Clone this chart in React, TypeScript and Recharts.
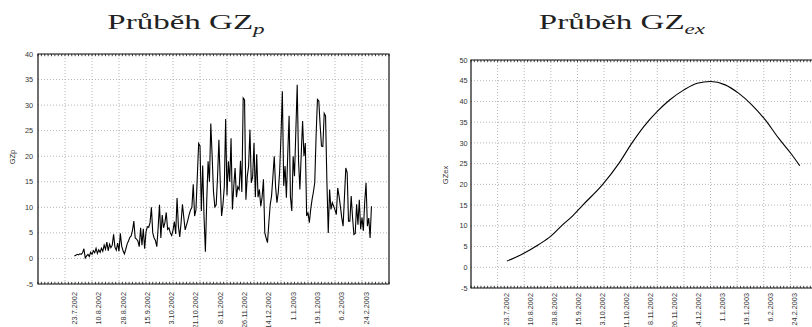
import React from 'react';
import { LineChart, Line, XAxis, YAxis, CartesianGrid, ReferenceLine, ReferenceArea } from 'recharts';

const SANS = '"Liberation Sans", Arial, sans-serif';
const SERIF = '"Liberation Serif", "Times New Roman", serif';

// x = day index counted from 23.7.2002
const dateLabels = ['23.7.2002', '10.8.2002', '28.8.2002', '15.9.2002', '3.10.2002', '21.10.2002', '8.11.2002', '26.11.2002', '14.12.2002', '1.1.2003', '19.1.2003', '6.2.2003', '24.2.2003'];
const labelDays = [0, 18, 36, 54, 72, 90, 108, 126, 144, 162, 180, 198, 216];
const gridDays = [-7, 13, 33, 53, 73, 93, 113, 133, 153, 173, 193, 213];
const xDomain = [-27, 233];

const gzpTicks = [-5, 0, 5, 10, 15, 20, 25, 30, 35, 40];
const gzexTicks = [-5, 0, 5, 10, 15, 20, 25, 30, 35, 40, 45, 50];

// GZp, one value per day starting 23.7.2002
const gzpValues = [
  0.5, 0.6, 0.8, 0.7, 0.9, 0.8, 1.1, 1.9, 0.1, 0.5,
  0.8, 0.4, 1.2, 0.8, 1.5, 1.1, 2.0, 1.0, 1.7, 1.2,
  2.0, 1.4, 2.6, 1.8, 3.2, 1.5, 2.8, 2.1, 2.6, 4.7,
  2.2, 1.6, 3.0, 1.4, 4.9, 2.4, 1.5, 0.9, 1.8, 2.8,
  3.4, 4.1, 4.4, 5.5, 7.3, 4.0, 3.8, 3.4, 2.3, 6.0,
  2.6, 5.8, 1.9, 5.2, 6.2,
  6.1, 7.0, 10.0, 5.0, 4.0, 3.5, 2.3, 6.0, 10.5, 4.0,
  8.5, 6.0, 7.0, 9.0, 5.7, 6.0, 5.0, 4.5, 5.5, 7.2,
  4.8, 11.8, 6.3, 4.2, 7.0, 10.6, 8.0, 5.6, 6.5, 7.5,
  8.6, 9.5, 10.0, 14.5, 8.3, 9.5, 16.0, 22.5, 22.0, 9.3,
  18.2, 8.0, 1.3, 11.4, 19.0, 15.0, 26.4, 20.0, 13.0, 10.1,
  10.5, 16.0, 23.2, 15.0, 8.3, 10.5, 14.0, 27.3, 12.3, 19.0,
  15.0, 23.5, 9.6, 14.0, 17.7, 12.0, 14.0, 13.5, 19.1, 13.0,
  31.4, 31.0, 11.5, 16.0, 18.0, 25.2, 14.8, 16.0, 22.6, 12.0,
  20.4, 12.0,
  13.5, 10.2, 12.0, 15.5, 5.0, 4.0, 3.1, 7.0, 10.5, 12.2,
  16.0, 20.0, 14.0, 10.9, 13.0, 17.0, 24.0, 32.7, 14.2, 18.1,
  11.9, 20.5, 27.9, 12.0, 9.3, 20.0, 16.1, 25.0, 34.0, 19.0,
  13.5, 20.5, 26.9, 20.0, 22.6, 8.3, 9.0, 7.0, 9.6, 11.5,
  13.0, 14.8, 24.0, 31.1, 30.8, 26.0, 22.0, 21.9, 28.4, 27.9,
  15.0, 5.0, 13.5, 9.6, 10.9, 10.2, 9.5, 8.6, 13.8, 12.2,
  10.2, 8.0, 6.3, 12.0, 17.7, 16.8, 7.3, 7.3, 12.2, 8.0,
  4.7, 4.9, 10.6, 6.6, 11.5, 5.7, 8.0, 5.4, 11.0, 14.8,
  6.3, 7.9, 4.0, 10.2,
];

// GZex, read at these days
const gzexDays = [0, 11, 24, 33, 41, 49, 57, 72, 84, 94, 103, 113, 122, 133, 143, 153, 164, 174, 184, 194, 204, 214, 220];
const gzexValues = [1.5, 3.1, 5.5, 7.5, 10.0, 12.3, 15.0, 20.0, 25.0, 30.0, 34.0, 37.6, 40.3, 42.8, 44.4, 44.8, 44.0, 42.0, 39.2, 35.6, 31.2, 27.2, 24.5];

const gzpData = gzpValues.map((v, i) => ({ day: i, v }));
const gzexData = gzexDays.map((d, i) => ({ day: d, v: gzexValues[i] }));

const minorX = Array.from({ length: 105 }, (_, i) => xDomain[0] + i * 2.5);

const DateTick = (props: any) => {
  const { x, y, payload } = props;
  const idx = labelDays.indexOf(payload.value);
  const label = idx >= 0 ? dateLabels[idx] : '';
  return (
    <text
      x={x}
      y={y}
      transform={`rotate(-90 ${x} ${y})`}
      textAnchor="end"
      dominantBaseline="central"
      fontSize={7.3}
      fontFamily={SANS}
      fill="#333"
    >
      {label}
    </text>
  );
};

// small inward tick mark drawn at the axis position
const MinorTick = (props: any) => {
  const { x, y, side } = props;
  const len = 2.2;
  let x2 = x;
  let y2 = y;
  if (side === 'top') y2 = y + len;
  else if (side === 'bottom') y2 = y - len;
  else if (side === 'left') x2 = x + len;
  else x2 = x - len;
  return <line x1={x} y1={y} x2={x2} y2={y2} stroke="#111" strokeWidth={0.8} />;
};

type PanelProps = {
  data: { day: number; v: number }[];
  curve: 'linear' | 'monotone';
  yTicks: number[];
  width: number;
  margin: { top: number; right: number; bottom: number; left: number };
  yAxisWidth: number;
  xAxisHeight: number;
  labelGap: number;
  tickGap: number;
};

function Panel({ data, curve, yTicks, width, margin, yAxisWidth, xAxisHeight, labelGap, tickGap }: PanelProps) {
  const yDomain = [yTicks[0], yTicks[yTicks.length - 1]];
  const minorY = Array.from({ length: yDomain[1] - yDomain[0] + 1 }, (_, i) => yDomain[0] + i);
  const minorCommon = { tickSize: 0, tickMargin: 0, tickLine: false, axisLine: false, interval: 0 as const };
  return (
    <LineChart width={width} height={327} data={data} margin={margin}>
      <XAxis xAxisId="lab" dataKey="day" type="number" domain={xDomain} ticks={labelDays} orientation="bottom" height={xAxisHeight} tick={<DateTick />} tickLine={false} tickSize={0} tickMargin={labelGap} axisLine={false} interval={0} />
      <XAxis xAxisId="top" dataKey="day" type="number" domain={xDomain} ticks={minorX} orientation="top" mirror height={10} tick={<MinorTick side="top" />} {...minorCommon} />
      <XAxis xAxisId="bottomMinor" dataKey="day" type="number" domain={xDomain} ticks={minorX} orientation="bottom" mirror height={10} tick={<MinorTick side="bottom" />} {...minorCommon} />
      <YAxis yAxisId="main" type="number" domain={yDomain} ticks={yTicks} width={yAxisWidth} tickLine={false} tickSize={0} tickMargin={tickGap} tick={{ fontSize: 7.3, fill: '#333', fontFamily: SANS }} axisLine={false} interval={0} />
      <YAxis yAxisId="leftMinor" type="number" domain={yDomain} ticks={minorY} orientation="left" mirror width={10} tick={<MinorTick side="left" />} {...minorCommon} />
      <YAxis yAxisId="rightMinor" type="number" domain={yDomain} ticks={minorY} orientation="right" mirror width={10} tick={<MinorTick side="right" />} {...minorCommon} />
      <CartesianGrid xAxisId="lab" yAxisId="main" vertical={false} stroke="#b4b4b4" strokeDasharray="1 2" />
      {gridDays.map((d) => (
        <ReferenceLine key={d} xAxisId="lab" yAxisId="main" x={d} stroke="#b4b4b4" strokeDasharray="1 2" />
      ))}
      <ReferenceArea xAxisId="lab" yAxisId="main" x1={xDomain[0]} x2={xDomain[1]} y1={yDomain[0]} y2={yDomain[1]} fill="none" fillOpacity={0} stroke="#111" strokeWidth={1.2} ifOverflow="visible" />
      <Line xAxisId="lab" yAxisId="main" type={curve} dataKey="v" stroke="#000" strokeWidth={1.1} dot={false} isAnimationActive={false} />
    </LineChart>
  );
}

const titleStyle: React.CSSProperties = {
  position: 'absolute',
  top: 9,
  width: 300,
  textAlign: 'center',
  fontFamily: SERIF,
  fontSize: 22,
  lineHeight: '26px',
  color: '#222',
  transform: 'scaleX(1.5)',
  whiteSpace: 'nowrap',
};

const axisTitleStyle: React.CSSProperties = {
  position: 'absolute',
  width: 60,
  height: 10,
  lineHeight: '10px',
  textAlign: 'center',
  fontFamily: SANS,
  fontSize: 7.5,
  color: '#333',
  transform: 'rotate(-90deg)',
};

export default function App() {
  return (
    <div style={{ position: 'absolute', left: 0, top: 0, width: 812, height: 327, overflow: 'hidden', background: '#fff' }}>
      <div style={{ position: 'absolute', left: 0, top: 0 }}>
        <Panel data={gzpData} curve="linear" yTicks={gzpTicks} width={406} margin={{ top: 54, right: 17, bottom: 0, left: 0 }} yAxisWidth={38} xAxisHeight={43} labelGap={8} tickGap={5} />
      </div>
      <div style={{ position: 'absolute', left: 406, top: 0 }}>
        <Panel data={gzexData} curve="monotone" yTicks={gzexTicks} width={420} margin={{ top: 60, right: 9, bottom: 0, left: 0 }} yAxisWidth={65} xAxisHeight={39} labelGap={5} tickGap={3.5} />
      </div>
      <div style={{ ...titleStyle, left: 186 - 150 }}>
        Průběh GZ<sub style={{ fontStyle: 'italic', fontSize: '0.7em', lineHeight: 0 }}>p</sub>
      </div>
      <div style={{ ...titleStyle, left: 622 - 150 }}>
        Průběh GZ<sub style={{ fontStyle: 'italic', fontSize: '0.7em', lineHeight: 0 }}>ex</sub>
      </div>
      <div style={{ ...axisTitleStyle, left: 13 - 30, top: 157 - 5 }}>GZp</div>
      <div style={{ ...axisTitleStyle, left: 446 - 30, top: 175 - 5 }}>GZex</div>
    </div>
  );
}
